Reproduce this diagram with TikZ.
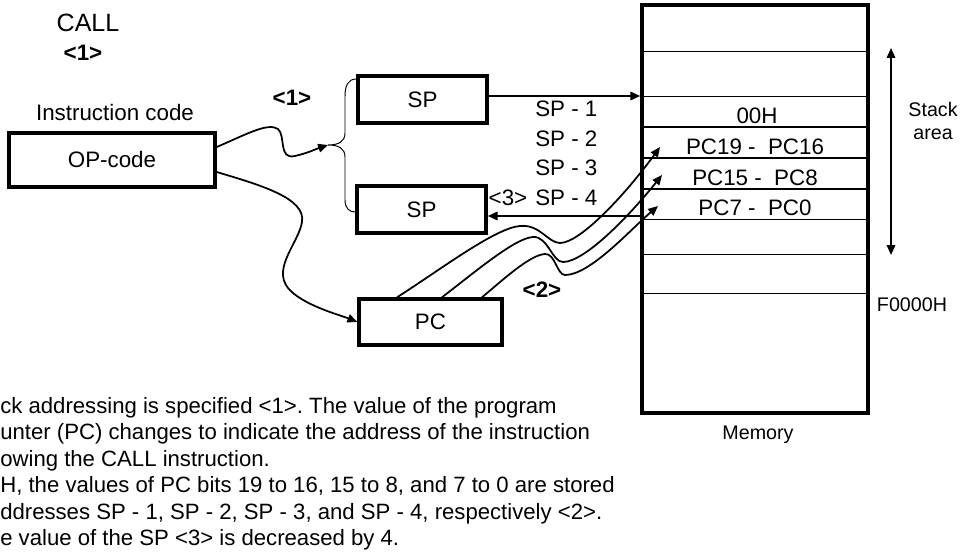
\documentclass[tikz,border=0pt]{standalone}
\usepackage{fontspec}
\setmainfont{Liberation Sans}
\usetikzlibrary{arrows.meta}
\frenchspacing
\newcommand{\stepno}[1]{\textbf{<#1>}}
\tikzset{
  reg/.style={draw, line width=2.4pt, inner sep=0pt, font=\fontsize{15.9}{18}\selectfont},
  txt/.style={inner sep=0pt, font=\fontsize{15.9}{18}\selectfont},
  small/.style={inner sep=0pt, align=center, font=\fontsize{14}{16.5}\selectfont},
  uses/.style={-{Triangle[length=7pt,width=6pt]}, line width=1.25pt},
  both/.style={{Triangle[length=7pt,width=6pt]}-{Triangle[length=7pt,width=6pt]}, line width=1.25pt},
  cellline/.style={line width=0.7pt},
  cellbold/.style={line width=1.6pt},
}

\begin{document}
\begin{tikzpicture}[x=0.025cm, y=-0.025cm]
\useasboundingbox (0,0) rectangle (964,557);

% instruction side
\node[txt, font=\fontsize{17.8}{20}\selectfont] (call) at (88,23) {CALL};
\node[txt] (callstep) at (83,53) {\stepno{1}};
\node[txt] (instr) at (115,113) {Instruction code};
\node[reg, minimum width=5.15cm, minimum height=1.35cm] (opcode) at (112,160) {OP-code};

% registers
\node[reg, minimum width=3.225cm, minimum height=1.175cm] (sptop) at (422.5,99.5) {SP};
\node[reg, minimum width=3.225cm, minimum height=1.175cm] (spbot) at (421.5,209.5) {SP};
\node[reg, minimum width=3.575cm, minimum height=1.15cm] (pc) at (430.5,322) {PC};
\node[txt] (step1) at (292,98) {\stepno{1}};
\node[txt] (step2) at (542,290) {\stepno{2}};
\node[txt] (dec) at (508,198) {<3>};
\node[txt, anchor=west] (sp1) at (535,109) {SP - 1};
\node[txt, anchor=west] (sp2) at (535,139) {SP - 2};
\node[txt, anchor=west] (sp3) at (535,168) {SP - 3};
\node[txt, anchor=west] (sp4) at (535,198) {SP - 4};

% memory
\node[draw, line width=2.4pt, minimum width=5.65cm, minimum height=10.2cm] (mem) at (755,209) {};
\foreach \y in {51,96,219,254,293}
  \draw[cellline] (mem.west |- 0,\y) -- (mem.east |- 0,\y);
\foreach \y in {127,158,189}
  \draw[cellbold] (mem.west |- 0,\y) -- (mem.east |- 0,\y);
\node[txt] (cell00) at (757,116) {00H};
\node[txt] (cellhi) at (755,147) {PC19 -\ \ PC16};
\node[txt] (cellmid) at (755,178) {PC15 -\ \ PC8};
\node[txt] (celllo) at (755,208) {PC7 -\ \ PC0};
\node[small] (memlbl) at (758,435) {Memory};
\node[small] (fbase) at (912,305) {F0000H};
\node[small] (stack) at (933,121) {Stack\\area};
\coordinate (stacktop) at (891,48);
\coordinate (stackbot) at (891,255);
\draw[both] (stacktop) -- (stackbot);

% brace in front of the two SP boxes
\coordinate (tip) at (328,145);
\draw[line width=0.7pt] (sptop.west |- 0,79) .. controls (348,79) and (345,86) .. (345,96)
  -- (345,133) .. controls (345,142) and (338,145) .. (tip)
  .. controls (338,145) and (345,148) .. (345,157)
  -- (345,200) .. controls (345,208) and (349,212) .. (spbot.west |- 0,212);

% connectors
\draw[uses] (opcode.east |- 0,147) .. controls (245,135) and (268,122) .. (278,129)
  .. controls (286,136) and (278,160) .. (295,156) .. controls (308,153) and (316,149) .. (tip);
\draw[uses] (opcode.east |- 0,172) .. controls (260,185) and (306,198) .. (302,222)
  .. controls (299,242) and (272,268) .. (288,288) .. controls (302,305) and (340,315) .. (pc.west);
\draw[uses] (sptop.east |- 0,96) -- (mem.west |- 0,96);
\draw[uses] (mem.west |- 0,216) -- (spbot.east |- 0,216);

% PC pushed into the stack
\draw[uses] (397,0 |- pc.north) .. controls (440,270) and (495,228) .. (520,226)
  .. controls (540,224) and (548,243) .. (560,243) .. controls (580,243) and (625,195) .. (660,147);
\draw[uses] (442,0 |- pc.north) .. controls (475,272) and (515,238) .. (533,237)
  .. controls (548,236) and (552,262) .. (563,262) .. controls (585,262) and (630,215) .. (662,175);
\draw[uses] (482,0 |- pc.north) .. controls (505,278) and (530,255) .. (545,254)
  .. controls (555,253) and (557,275) .. (565,275) .. controls (590,275) and (630,230) .. (658,206);

% explanation, cut at the left edge
\node[txt, anchor=north west, align=left, font=\fontsize{15.75}{18.8}\selectfont] (note) at (0,397)
  {ck addressing is specified <1>. The value of the program\\
   unter (PC) changes to indicate the address of the instruction\\
   owing the CALL instruction.\\
   H, the values of PC bits 19 to 16, 15 to 8, and 7 to 0 are stored\\
   ddresses SP - 1, SP - 2, SP - 3, and SP - 4, respectively <2>.\\
   e value of the SP <3> is decreased by 4.};
\end{tikzpicture}
\end{document}
